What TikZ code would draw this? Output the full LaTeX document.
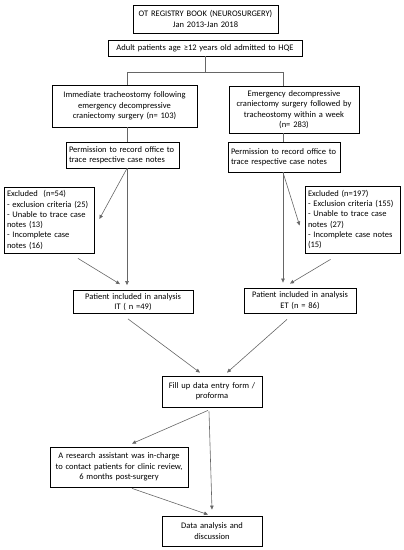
\documentclass[tikz,border=0pt]{standalone}
\usepackage{fontspec}
\setmainfont{Carlito}
\usetikzlibrary{arrows.meta}
\begin{document}
\begin{tikzpicture}[x=1pt,y=-1pt,
  box/.style={draw=black,line width=0.8pt,inner xsep=3pt,inner ysep=2pt,align=center,font=\fontsize{8.5}{10.3}\selectfont},
  leftbox/.style={box,align=left},
  link/.style={draw=black!60,line width=0.6pt},
  arrow/.style={link,-{Triangle[length=4pt,width=3.5pt]}}]
\useasboundingbox (0,0) rectangle (404,550);
\node [box,text width=139pt,minimum height=28pt] (registry) at (205.5,19) {OT REGISTRY BOOK (NEUROSURGERY)\\Jan 2013-Jan 2018};
\node [box,text width=188pt,minimum height=16pt] (adult) at (205,48) {Adult patients age ≥12 years old admitted to HQE};
\node [box,text width=139pt,minimum height=42pt] (immediate) at (124.5,106) {Immediate tracheostomy following\\emergency decompressive\\craniectomy surgery (n= 103)};
\node [box,text width=124pt,minimum height=47pt] (emergency) at (294,109.5) {Emergency decompressive\\craniectomy surgery followed by\\tracheostomy within a week\\(n= 283)};
\node [leftbox,text width=107pt,minimum height=26pt] (permL) at (122.5,155) {Permission to record office to\\trace respective case notes};
\node [leftbox,text width=106pt,minimum height=30pt] (permR) at (284,157) {Permission to record office to\\trace respective case notes};
\node [leftbox,text width=84pt,minimum height=66pt] (exclL) at (49,220) {Excluded\ \ (n=54)\\- exclusion criteria (25)\\- Unable to trace case\\notes (13)\\- Incomplete case\\notes (16)};
\node [leftbox,text width=89pt,minimum height=67pt] (exclR) at (352.5,219.5) {Excluded (n=197)\\- Exclusion criteria (155)\\- Unable to trace case\\notes (27)\\- Incomplete case notes\\(15)};
\node [box,text width=114pt,minimum height=23pt] (inclIT) at (133,302) {Patient included in analysis\\IT ( n =49)};
\node [box,text width=106pt,minimum height=25pt] (inclET) at (300,300.5) {Patient included in analysis\\ET (n = 86)};
\node [box,text width=94pt,minimum height=31pt] (fillup) at (212,391.5) {Fill up data entry form /\\proforma};
\node [box,text width=132pt,minimum height=40pt] (research) at (119,467) {A research assistant was in-charge\\to contact patients for clinic review,\\6 months post-surgery};
\node [box,text width=94pt,minimum height=30pt] (analysis) at (212,531) {Data analysis and\\discussion};
\coordinate (fork) at (205,72);
\coordinate (forkL) at (127,72);
\coordinate (forkR) at (283,72);
\draw [link] (adult) -- (fork);
\draw [link] (forkL) -- (forkR);
\draw [link] (forkL) -- (forkL |- immediate.north);
\draw [link] (forkR) -- (forkR |- emergency.north);
\draw [link] (forkL |- immediate.south) -- (forkL |- permL.north);
\draw [link] (forkR |- emergency.south) -- (forkR |- permR.north);
\draw [arrow,shorten >=5pt] (forkL |- permL.south) -- (forkL |- inclIT.north);
\draw [arrow] (forkL |- permL.south) -- ([xshift=5pt,yshift=1pt]exclL.east);
\draw [arrow] ([xshift=29pt,yshift=-5pt]exclL.south) -- ([xshift=-13pt,yshift=6pt]inclIT.north);
\draw [arrow,shorten >=5pt] (forkR |- permR.south) -- (forkR |- inclET.north);
\draw [arrow] (forkR |- permR.south) -- ([xshift=-5pt,yshift=-6pt]exclR.west);
\draw [arrow] ([xshift=-22pt,yshift=-6pt]exclR.south) -- ([xshift=-10pt,yshift=4pt]inclET.north);
\draw [arrow] ([xshift=-5pt,yshift=-5pt]inclIT.south) -- ([xshift=-12pt,yshift=3pt]fillup.north);
\draw [arrow] ([xshift=-13pt,yshift=-6pt]inclET.south) -- ([xshift=15pt,yshift=3pt]fillup.north);
\draw [arrow] ([xshift=-4pt,yshift=-3pt]fillup.south) -- ([xshift=13pt,yshift=3pt]research.north);
\draw [arrow] ([xshift=-3pt,yshift=-4pt]fillup.south) -- ([yshift=6pt]analysis.north);
\draw [arrow] ([xshift=13pt,yshift=-1pt]research.south) -- ([xshift=-4pt,yshift=1pt]analysis.north);
\end{tikzpicture}
\end{document}
